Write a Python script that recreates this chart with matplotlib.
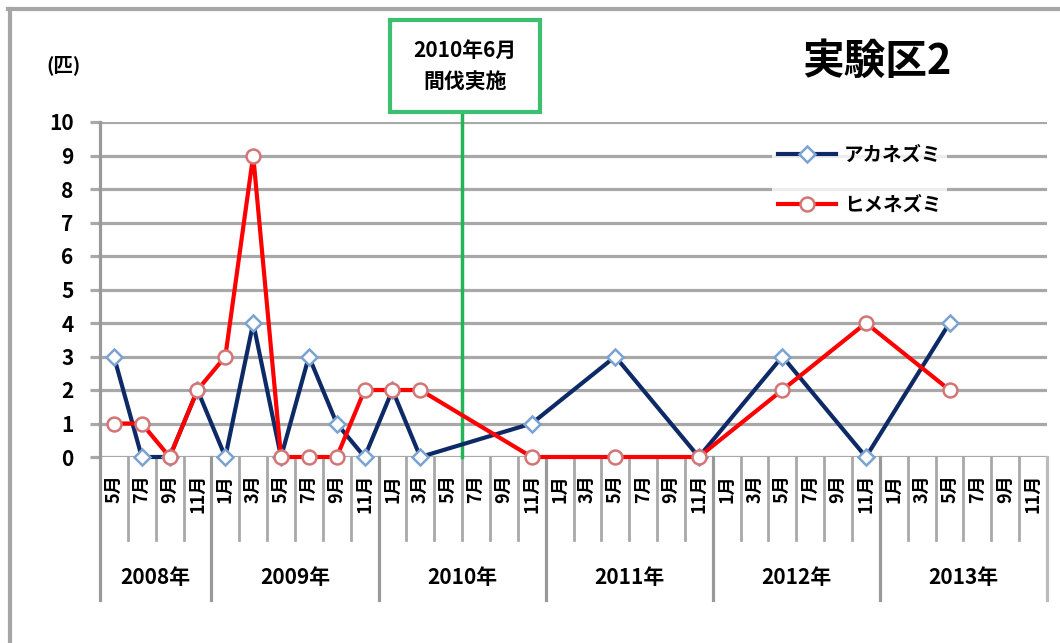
import numpy as np
import matplotlib
matplotlib.use("Agg")
import matplotlib.pyplot as plt
from matplotlib.lines import Line2D
from matplotlib.patches import Rectangle

plt.rcParams['font.family'] = ['Noto Sans CJK JP', 'DejaVu Sans']
plt.rcParams['font.weight'] = 'bold'

# --- data ---
years = ["2008年", "2009年", "2010年", "2011年", "2012年", "2013年"]
months_per_year = [
    [5, 7, 9, 11],
    [1, 3, 5, 7, 9, 11],
    [1, 3, 5, 7, 9, 11],
    [1, 3, 5, 7, 9, 11],
    [1, 3, 5, 7, 9, 11],
    [1, 3, 5, 7, 9, 11],
]
nan = np.nan
akanezumi = [3, 0, 0, 2, 0, 4, 0, 3, 1, 0, 2, 0, nan, nan, nan, 1, nan, nan,
             3, nan, nan, 0, nan, nan, 3, nan, nan, 0, nan, nan, 4, nan, nan, nan]
himenezumi = [1, 1, 0, 2, 3, 9, 0, 0, 0, 2, 2, 2, nan, nan, nan, 0, nan, nan,
              0, nan, nan, 0, nan, nan, 2, nan, nan, 4, nan, nan, 2, nan, nan, nan]
event_pos = 12.5  # between 2010-5 and 2010-7
event_text = "2010年6月\n間伐実施"
title = "実験区2"

month_labels = [f"{m}月" for ms in months_per_year for m in ms]
n = len(month_labels)
x = np.arange(n)

W, H = 1060, 643
fig = plt.figure(figsize=(W / 100, H / 100), dpi=100)

def fy(py):
    return 1 - py / H

ax_l, ax_r, ax_t, ax_b = 100, 1047, 122, 457
ax = fig.add_axes([ax_l / W, fy(ax_b), (ax_r - ax_l) / W, (ax_b - ax_t) / H])
ax.set_xlim(-0.5, n - 0.5)
ax.set_ylim(0, 10)

grid_c = "#A8A8A8"
for v in range(0, 11):
    ax.axhline(v, color=grid_c, lw=2.3, zorder=1)

for s in ["top", "right", "bottom"]:
    ax.spines[s].set_visible(False)
ax.spines["left"].set_color("#999999")
ax.spines["left"].set_linewidth(2.3)

ax.set_yticks(range(0, 11))
ax.set_yticklabels([str(v) for v in range(0, 11)], fontsize=15, fontweight='bold')
ax.tick_params(axis='y', length=7, width=2.3, color=grid_c, pad=12)
ax.set_xticks([])

def plot_series(vals, color, marker, ms, mec, label):
    v = np.array(vals, dtype=float)
    m = ~np.isnan(v)
    ax.plot(x[m], v[m], color=color, lw=3, marker=marker, ms=ms, mfc="white",
            mec=mec, mew=1.8, clip_on=False, zorder=3, label=label)

plot_series(akanezumi, "#0E2A66", "D", 8, "#7BA3D0", "アカネズミ")
plot_series(himenezumi, "#FF0000", "o", 10, "#D47575", "ヒメネズミ")

# multi-level category axis
def ay(py):
    return (ax_b - py) / (ax_b - ax_t)

trans = ax.get_xaxis_transform()
for i in range(n + 1):
    ax.add_line(Line2D([i - 0.5, i - 0.5], [0, ay(540)], transform=trans,
                       color=grid_c, lw=2.0, clip_on=False))
for i, lab in enumerate(month_labels):
    ax.text(i, ay(474), lab, transform=trans, rotation=90, ha='center', va='top',
            fontsize=13, fontweight='bold')

start = 0
for yr, ms in zip(years, months_per_year):
    end = start + len(ms)
    ax.add_line(Line2D([start - 0.5, start - 0.5], [0, ay(600)], transform=trans,
                       color="#999999", lw=2.3, clip_on=False))
    ax.text((start + end - 1) / 2, ay(577), yr, transform=trans, ha='center',
            va='center', fontsize=15, fontweight='bold')
    start = end
ax.add_line(Line2D([n - 0.5, n - 0.5], [0, ay(600)], transform=trans,
                   color="#BBBBBB", lw=2.3, clip_on=False))

# event marker
green = "#22B455"
ax.add_line(Line2D([event_pos, event_pos], [0, ay(112)], transform=trans,
                   color=green, lw=2.5, clip_on=False, zorder=2))
fig.patches.append(Rectangle((390 / W, fy(112)), 150 / W, 92 / H,
                             transform=fig.transFigure, fill=False,
                             edgecolor="#3CC070", lw=3))
fig.text(465 / W, fy(66), event_text, ha='center', va='center', fontsize=15,
         fontweight='bold', linespacing=1.6)

# title, y unit
fig.text(877 / W, fy(62), title, ha='center', va='center', fontsize=30,
         fontweight='bold')
fig.text(63 / W, fy(65), "(匹)", ha='center', va='center', fontsize=14,
         fontweight='bold')

leg = ax.legend(loc='upper left', bbox_to_anchor=(762 / W, fy(130)),
                bbox_transform=fig.transFigure, frameon=True,
                facecolor="white", edgecolor="none", framealpha=0.8,
                handlelength=3.0, handletextpad=0.4, labelspacing=1.6,
                borderpad=0.3, prop={'weight': 'bold', 'size': 14})

# chart area border (top and left only visible)
fig.add_artist(Line2D([8 / W, 1], [fy(9), fy(9)], transform=fig.transFigure,
                      color="#A6A6A6", lw=3))
fig.add_artist(Line2D([10 / W, 10 / W], [fy(9), 0], transform=fig.transFigure,
                      color="#A6A6A6", lw=3))

fig.savefig("out.png", dpi=100)
